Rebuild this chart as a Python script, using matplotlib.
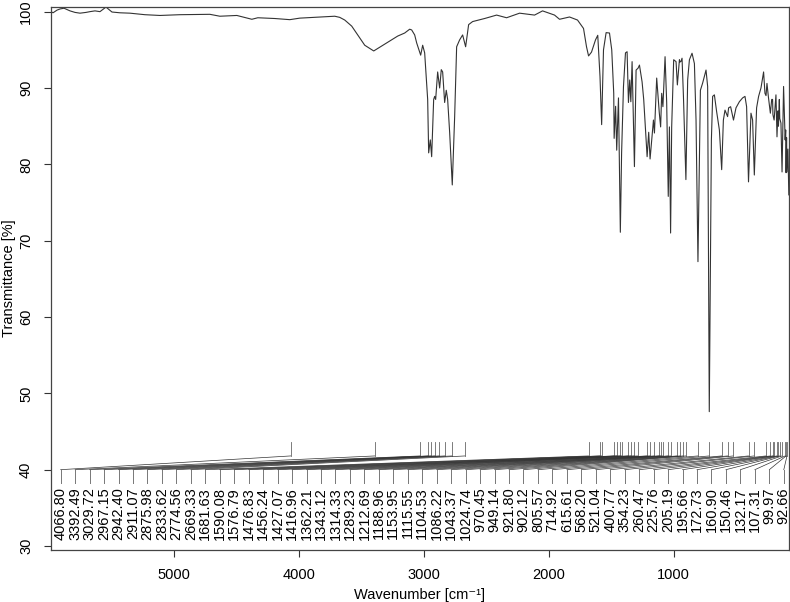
import matplotlib.pyplot as plt
import numpy as np

plt.rcParams['font.family'] = ['Liberation Sans', 'DejaVu Sans']

# Spectrum: wavenumber [cm-1] and transmittance [%]
wn = [5986, 5970, 5938, 5914, 5882, 5834, 5794, 5754, 5706, 5674, 5634, 5594, 5546, 5498,
      5434, 5354, 5234, 5114, 4954, 4714, 4634, 4498, 4378, 4330, 4194, 4074, 3994, 3834,
      3714, 3674, 3634, 3578, 3474, 3402, 3314, 3210, 3154, 3114, 3098, 3074, 3058, 3026,
      3010, 2994, 2970, 2962, 2949, 2938, 2922, 2914, 2906, 2890, 2874, 2861, 2850, 2834,
      2821, 2810, 2794, 2773, 2754, 2738, 2714, 2690, 2666, 2642, 2610, 2514, 2418, 2338,
      2234, 2114, 2050, 1954, 1914, 1834, 1770, 1722, 1698, 1681.6, 1658, 1626, 1608, 1590,
      1576.8, 1562, 1541, 1514, 1496, 1480, 1476.8, 1465, 1456.2, 1442, 1427.1, 1417, 1402,
      1386, 1373, 1362.2, 1352, 1343.1, 1333, 1314.3, 1301, 1285, 1274, 1253, 1240, 1212.7,
      1200, 1189, 1176, 1162, 1154, 1136, 1115.5, 1104.5, 1096, 1086.2, 1069, 1056, 1043.4,
      1034, 1024.7, 1016, 1000, 981, 970.5, 954, 949, 941, 933, 921.8, 902.1, 888, 874, 853,
      834, 821, 805.6, 786, 768, 741, 728, 714.9, 698, 688, 674, 656, 634, 615.6, 602, 589,
      568.2, 560, 544, 521, 501, 474, 448, 429, 416, 400.8, 381, 368, 354.2, 336, 320, 301,
      280, 269, 260.5, 253, 242, 225.8, 215, 208, 205.2, 195.7, 181, 172.7, 165, 160.9, 154,
      150.5, 141, 132.2, 120, 107.3, 103, 100, 96, 92.7, 85, 78]
trans = [100.0, 99.85, 100.2, 100.35, 100.45, 100.1, 99.9, 99.8, 99.9, 100.0, 100.1, 100.0,
         100.6, 99.95, 99.85, 99.8, 99.6, 99.5, 99.6, 99.65, 99.4, 99.5, 99.0, 99.2, 99.1,
         98.95, 99.15, 99.3, 99.4, 99.25, 98.9, 98.1, 95.6, 94.85, 95.75, 96.8, 97.2, 97.7,
         97.6, 96.95, 95.9, 94.3, 95.6, 94.6, 88.5, 81.5, 83.2, 81.0, 88.5, 88.9, 88.5, 92.1,
         90.0, 92.4, 92.1, 88.1, 89.7, 88.5, 84.2, 77.3, 86.2, 95.4, 96.3, 96.95, 95.4, 98.3,
         98.7, 99.1, 99.55, 99.2, 99.8, 99.55, 100.1, 99.55, 99.0, 99.3, 98.9, 97.8, 95.4,
         94.2, 94.7, 96.3, 96.9, 91.5, 85.2, 95.0, 97.25, 97.2, 95.0, 89.3, 83.4, 87.6, 81.85,
         88.7, 71.1, 81.5, 90.2, 94.6, 94.75, 88.1, 91.05, 88.2, 93.45, 79.7, 92.35, 92.6,
         93.0, 90.8, 88.5, 81.0, 84.2, 80.7, 83.2, 85.8, 84.1, 91.3, 86.8, 84.9, 89.3, 87.55,
         94.1, 88.1, 75.8, 84.9, 71.0, 84.9, 93.7, 93.45, 90.4, 93.7, 93.4, 93.5, 93.9, 88.9,
         78.0, 91.05, 93.7, 94.55, 93.2, 85.8, 67.25, 89.7, 90.65, 92.35, 90.2, 47.6, 83.2,
         88.9, 89.1, 86.9, 84.5, 79.3, 85.8, 87.1, 86.25, 87.4, 87.55, 85.8, 87.4, 88.2, 88.7,
         88.9, 87.55, 77.7, 86.7, 85.8, 78.6, 87.4, 88.9, 90.0, 92.1, 89.3, 89.0, 90.6, 88.9,
         86.7, 88.5, 88.5, 86.5, 85.8, 89.1, 83.6, 87.0, 85.0, 88.5, 86.0, 85.4, 79.0, 90.2,
         83.2, 84.5, 78.9, 83.5, 79.0, 82.0, 76.0]

# Peak labels
peak_wn = [4066.80, 3392.49, 3029.72, 2967.15, 2942.40, 2911.07, 2875.98, 2833.62, 2774.56,
           2669.33, 1681.63, 1590.08, 1576.79, 1476.83, 1456.24, 1427.07, 1416.96, 1362.21,
           1343.12, 1314.33, 1289.23, 1212.69, 1188.96, 1153.95, 1115.55, 1104.53, 1086.22,
           1043.37, 1024.74, 970.45, 949.14, 921.80, 902.12, 805.57, 714.92, 615.61, 568.20,
           521.04, 400.77, 354.23, 260.47, 225.76, 205.19, 195.66, 172.73, 160.90, 150.46,
           132.17, 107.31, 99.97, 92.66]

fig = plt.figure(figsize=(7.9, 6.02), dpi=100)
ax = fig.add_axes([0.0646, 0.0864, 0.9339, 0.9025])

ax.plot(wn, trans, color='#333333', lw=0.8)
ax.set_xlim(5986, 78)
ax.set_ylim(29.48, 100.65)

# etiquetas de picos repartidas a lo largo del eje
x0, x1 = ax.get_xlim()
frac = np.linspace(0.0131, 0.9932, len(peak_wn))
lab_x = x0 + frac * (x1 - x0)
for lx, pw in zip(lab_x, peak_wn):
    ax.plot([lx, lx], [38.3, 40], color='#777777', lw=0.7)
    ax.plot([lx, pw], [40, 41.8], color='#333333', lw=0.5)
    ax.plot([pw, pw], [41.8, 43.6], color='#666666', lw=0.6)
    ax.text(lx, 37.7, f'{pw:.2f}', rotation=90, ha='center', va='top', fontsize=10.5)

ax.set_xticks([5000, 4000, 3000, 2000, 1000])
ax.set_yticks(range(30, 101, 10))
ax.tick_params(direction='out', length=5, width=0.8, pad=8, labelsize=10.5, colors='#333333')
ax.tick_params(labelcolor='black')
plt.setp(ax.get_yticklabels(), rotation=90, va='center')
for s in ax.spines.values():
    s.set_color('#444444')
    s.set_linewidth(0.9)

ax.set_xlabel('Wavenumber [cm⁻¹]', fontsize=10.5, labelpad=4)
ax.set_ylabel('Transmittance [%]', fontsize=10.5, labelpad=2)

fig.savefig('out.png', dpi=100)
